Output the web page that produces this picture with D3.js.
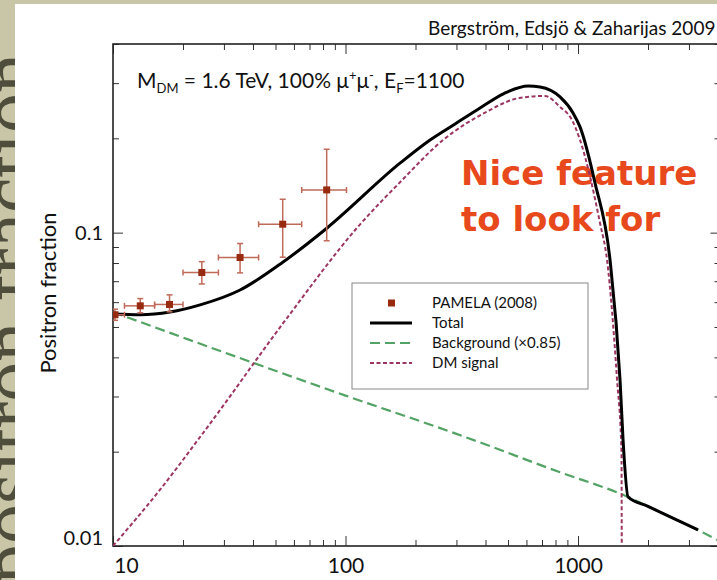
<!DOCTYPE html>
<html>
<head>
<meta charset="utf-8">
<script src="https://cdn.jsdelivr.net/npm/d3@7"></script>
<style>
  body { margin: 0; background: #fff; }
  svg { display: block; }
</style>
</head>
<body>
<div id="chart"></div>
<script>
// PAMELA (2008) points: energy (GeV), bin edges, positron fraction and error range
const pamelaEnergy = [10.2, 13.1, 17.5, 24.1, 35.2, 53.7, 83.0];
const pamelaBinLo  = [9.1, 11.2, 15.1, 20.0, 28.4, 42.3, 64.8];
const pamelaBinHi  = [11.2, 15.1, 20.0, 28.4, 42.3, 64.8, 101];
const pamelaFrac   = [0.0547, 0.0584, 0.0590, 0.0746, 0.0833, 0.1064, 0.1369];
const pamelaErrLo  = [0.0525, 0.0555, 0.0559, 0.0686, 0.0744, 0.0835, 0.0943];
const pamelaErrHi  = [0.0570, 0.0616, 0.0633, 0.0808, 0.0924, 0.1278, 0.1845];

// model curves, [energy, fraction]
const totalCurve = [
  [10, 0.0550], [13.1, 0.0547], [17.6, 0.0558], [23.7, 0.0588], [35.2, 0.0656],
  [53.9, 0.0806], [83.3, 0.1035], [172, 0.1669], [231, 0.1976], [296, 0.2223],
  [379, 0.2500], [480, 0.2780], [610, 0.2938], [687, 0.2917], [837, 0.2711],
  [952, 0.2410], [1020, 0.2175], [1183, 0.1441], [1373, 0.0818], [1516, 0.0339],
  [1562, 0.0218], [1641, 0.01434], [2000, 0.01338], [2600, 0.01221], [3282, 0.01125]
];
const dmCurve = [
  [10, 0.0100], [15.9, 0.0151], [25, 0.0235], [56.0, 0.0534], [113, 0.1043],
  [172, 0.1451], [263, 0.1976], [400, 0.2420], [560, 0.2690], [721, 0.2731],
  [837, 0.2518], [942, 0.2289], [1020, 0.1976], [1243, 0.1074], [1333, 0.0818],
  [1472, 0.0339], [1538, 0.0200], [1542, 0.0100]
];
const bgCurve = [
  [10, 0.0558], [30, 0.0415], [100, 0.0302], [300, 0.0228], [837, 0.01719],
  [1641, 0.01434], [2000, 0.01338], [2600, 0.01221], [3282, 0.01125], [3963, 0.01045]
];

const xMajorTicks = [10, 100, 1000];
const xTickLabels = ["10", "100", "1000"];
const yMajorTicks = [0.01, 0.1];
const yTickLabels = ["0.01", "0.1"];

const legendLabels = ["PAMELA (2008)", "Total", "Background (\u00d70.85)", "DM signal"];

const W = 717, H = 580;
const plot = { left: 113, right: 720.5, top: 44, bottom: 546 };
const font = "Lato, 'Open Sans', sans-serif";
const cDM = "#9c3562", cBG = "#52a364", cData = "#982a10", cErr = "#c06a5a";

const svg = d3.select("#chart").append("svg")
  .attr("width", W)
  .attr("height", H);

// slide background and its rotated title
svg.append("rect").attr("width", W).attr("height", H).attr("fill", "#c9c6a7");
svg.append("text")
  .attr("transform", "translate(36,584) rotate(-90)")
  .style("font-family", "'Liberation Serif', 'DejaVu Serif', serif")
  .style("font-size", "80px")
  .attr("fill", "#4f4e3c")
  .text("positron fraction");
svg.append("rect")
  .attr("x", 15).attr("y", 4)
  .attr("width", W - 15).attr("height", H - 4)
  .attr("fill", "#fff");

const x = d3.scaleLog().domain([10, 4100]).range([plot.left, plot.right]);
const y = d3.scaleLog().domain([0.01, 0.4]).range([plot.bottom, plot.top]);

svg.append("clipPath").attr("id", "clip")
  .append("rect")
  .attr("x", plot.left).attr("y", plot.top)
  .attr("width", plot.right - plot.left).attr("height", plot.bottom - plot.top);

// ticks on all four sides, pointing inward
const xMinor = x.ticks().filter(d => !xMajorTicks.includes(d));
const yMinor = y.ticks().filter(d => !yMajorTicks.some(m => Math.abs(m - d) < 1e-9));

function tickAxis(axisFn, scale, values, size, tr) {
  const g = svg.append("g")
    .attr("transform", tr)
    .call(axisFn(scale).tickValues(values).tickSize(-size).tickSizeOuter(0).tickFormat(""));
  g.select(".domain").remove();
  g.selectAll(".tick line").attr("stroke", "#333").attr("stroke-width", 1);
  return g;
}
tickAxis(d3.axisBottom, x, xMinor, 6, `translate(0,${plot.bottom})`);
tickAxis(d3.axisTop, x, xMinor, 6, `translate(0,${plot.top})`);
tickAxis(d3.axisTop, x, xMajorTicks, 10, `translate(0,${plot.top})`);
tickAxis(d3.axisLeft, y, yMinor, 6, `translate(${plot.left},0)`);
tickAxis(d3.axisRight, y, yMinor, 6, `translate(${plot.right},0)`);
tickAxis(d3.axisRight, y, yMajorTicks, 10, `translate(${plot.right},0)`);

const xAxis = svg.append("g")
  .attr("transform", `translate(0,${plot.bottom})`)
  .call(d3.axisBottom(x).tickValues(xMajorTicks).tickSize(-10).tickSizeOuter(0).tickPadding(12)
    .tickFormat((d, i) => xTickLabels[i]));
xAxis.select(".domain").remove();
xAxis.selectAll(".tick line").attr("stroke", "#333");
xAxis.selectAll("text")
  .style("font-family", font).style("font-size", "21px").attr("fill", "#111")
  .attr("dx", (d, i) => i === 0 ? 13 : 0);

const yAxis = svg.append("g")
  .attr("transform", `translate(${plot.left},0)`)
  .call(d3.axisLeft(y).tickValues(yMajorTicks).tickSize(-10).tickSizeOuter(0).tickPadding(10)
    .tickFormat((d, i) => yTickLabels[i]));
yAxis.select(".domain").remove();
yAxis.selectAll(".tick line").attr("stroke", "#333");
yAxis.selectAll("text")
  .style("font-family", font).style("font-size", "20px").attr("fill", "#111")
  .attr("dy", (d, i) => i === 0 ? "-0.08em" : "0.32em");

// frame
svg.append("rect")
  .attr("x", plot.left).attr("y", plot.top)
  .attr("width", plot.right - plot.left).attr("height", plot.bottom - plot.top)
  .attr("fill", "none").attr("stroke", "#222").attr("stroke-width", 1.6);

// y axis title
svg.append("text")
  .attr("transform", "translate(56,293) rotate(-90)")
  .style("text-anchor", "middle")
  .style("font-family", font).style("font-size", "22px")
  .attr("fill", "#111")
  .text("Positron fraction");

// the slide's call-out sits under the curves
const nice = svg.append("text")
  .style("font-family", "'DejaVu Sans', sans-serif").style("font-size", "34px").style("font-weight", "bold")
  .attr("fill", "#e8491c");
nice.append("tspan").attr("x", 461).attr("y", 185).text("Nice feature");
nice.append("tspan").attr("x", 461).attr("y", 231).text("to look for");

// curves
const line = d3.line()
  .x(d => x(d[0]))
  .y(d => y(d[1]))
  .curve(d3.curveMonotoneX);

const curves = svg.append("g").attr("clip-path", "url(#clip)");
curves.append("path").datum(bgCurve)
  .attr("fill", "none").attr("stroke", cBG).attr("stroke-width", 2.2)
  .attr("stroke-dasharray", "10,5").attr("d", line);
curves.append("path").datum(dmCurve)
  .attr("fill", "none").attr("stroke", cDM).attr("stroke-width", 2)
  .attr("stroke-dasharray", "4,2.5").attr("d", line);
curves.append("path").datum(totalCurve)
  .attr("fill", "none").attr("stroke", "#000").attr("stroke-width", 3)
  .attr("d", line);

// PAMELA points with error bars
const pts = svg.append("g").attr("clip-path", "url(#clip)");
pamelaEnergy.forEach((e, i) => {
  const px = x(e), py = y(pamelaFrac[i]);
  const g = pts.append("g").attr("stroke", cErr).attr("stroke-width", 1.5);
  g.append("line").attr("x1", x(pamelaBinLo[i])).attr("x2", x(pamelaBinHi[i])).attr("y1", py).attr("y2", py);
  g.append("line").attr("x1", px).attr("x2", px).attr("y1", y(pamelaErrLo[i])).attr("y2", y(pamelaErrHi[i]));
  [pamelaBinLo[i], pamelaBinHi[i]].forEach(b => {
    g.append("line").attr("x1", x(b)).attr("x2", x(b)).attr("y1", py - 3).attr("y2", py + 3);
  });
  [pamelaErrLo[i], pamelaErrHi[i]].forEach(v => {
    g.append("line").attr("x1", px - 3).attr("x2", px + 3).attr("y1", y(v)).attr("y2", y(v));
  });
  pts.append("rect")
    .attr("x", px - 3.5).attr("y", py - 3.5)
    .attr("width", 7).attr("height", 7)
    .attr("fill", cData);
});

// legend
const lg = svg.append("g").attr("transform", "translate(352,283)");
lg.append("rect").attr("width", 236).attr("height", 106)
  .attr("fill", "#fff").attr("stroke", "#888").attr("stroke-width", 1);
legendLabels.forEach((lab, i) => {
  const cy = 20 + i * 20;
  if (i === 0) {
    lg.append("rect").attr("x", 36).attr("y", cy - 3.5).attr("width", 7).attr("height", 7).attr("fill", cData);
  } else {
    const st = [null, ["#000", 3, null], [cBG, 2.2, "10,5"], [cDM, 2, "4,2.5"]][i];
    lg.append("line").attr("x1", 18).attr("x2", 60).attr("y1", cy).attr("y2", cy)
      .attr("stroke", st[0]).attr("stroke-width", st[1]).attr("stroke-dasharray", st[2]);
  }
  lg.append("text").attr("x", 80).attr("y", cy).attr("dy", "0.35em")
    .style("font-family", font).style("font-size", "15px").attr("fill", "#111")
    .text(lab);
});

// annotations
const ann = svg.append("text")
  .attr("x", 137).attr("y", 88)
  .style("font-family", font).style("font-size", "21px").attr("fill", "#111");
ann.append("tspan").text("M");
ann.append("tspan").attr("dy", 5).style("font-size", "13px").text("DM");
ann.append("tspan").attr("dy", -5).text(" = 1.6 TeV, 100% \u03bc");
ann.append("tspan").attr("dy", -8).style("font-size", "13px").text("+");
ann.append("tspan").attr("dy", 8).text("\u03bc");
ann.append("tspan").attr("dy", -8).style("font-size", "13px").text("-");
ann.append("tspan").attr("dy", 8).text(", E");
ann.append("tspan").attr("dy", 5).style("font-size", "13px").text("F");
ann.append("tspan").attr("dy", -5).text("=1100");

svg.append("text")
  .attr("x", 428).attr("y", 35)
  .style("font-family", font).style("font-size", "19px").attr("fill", "#111")
  .text("Bergstr\u00f6m, Edsj\u00f6 & Zaharijas 2009");
</script>
</body>
</html>
